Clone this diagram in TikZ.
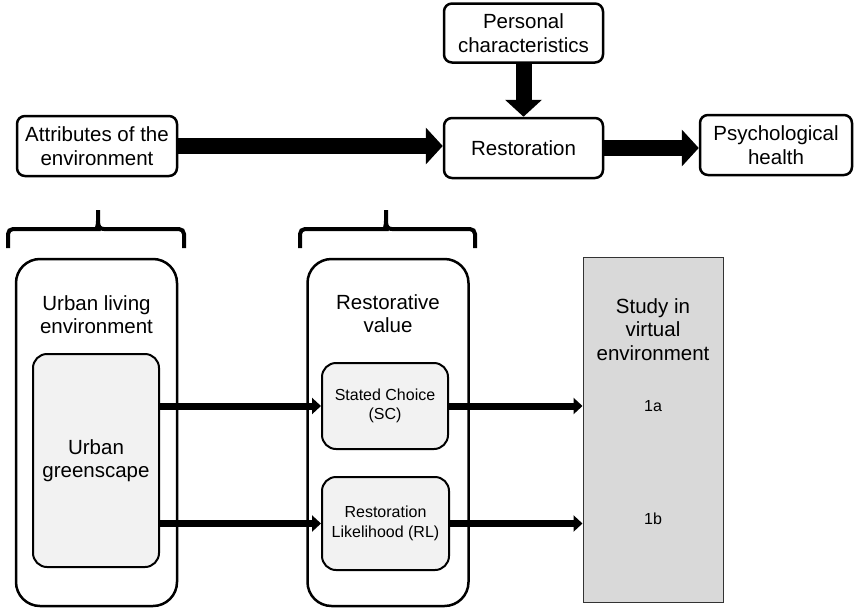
\documentclass[tikz,border=0pt]{standalone}
\usepackage{fontspec}
\setmainfont{Liberation Sans}
\usetikzlibrary{arrows.meta,positioning}

\begin{document}
\begin{tikzpicture}[
    x=1pt, y=-1pt,
    bigfont/.style={font=\fontsize{20.5}{23.5}\selectfont},
    smallfont/.style={font=\fontsize{16}{19.5}\selectfont},
    topbox/.style={
        draw,
        bigfont,
        rounded corners=8pt,
        align=center,
        minimum height=60pt,
        inner sep=2pt,
        line width=2.5pt
    },
    panel/.style={
        draw,
        rounded corners=24pt,
        minimum width=161pt,
        minimum height=347pt,
        line width=2.5pt
    },
    innerbox/.style={
        draw,
        fill=black!5,
        rounded corners=14pt,
        align=center,
        line width=2pt
    },
    studybox/.style={
        draw=black!80,
        fill=black!15,
        minimum width=140pt,
        minimum height=345pt,
        line width=1pt
    },
    paneltitle/.style={
        bigfont,
        align=center,
        anchor=center
    },
    bigflow/.style={-{Triangle[width=36pt,length=17pt]}, line width=16pt},
    flow/.style={-{Triangle[width=16pt,length=9pt]}, line width=7pt},
    bracket/.style={line width=4pt, rounded corners=5pt}
]
\useasboundingbox (0,0) rectangle (854,608);

% Conceptual model
\node[topbox, minimum width=159pt] (restor) at (523.5,148) {Restoration};
\node[topbox, minimum width=159pt, minimum height=59pt, above=53pt of restor]
    (person) {Personal\\characteristics};
\node[topbox, minimum width=160pt] (attrib) at (97,146)
    {Attributes of the\\environment};
\node[topbox, minimum width=152pt] (psych) at (776,145)
    {Psychological\\health};

% Operationalisation
\node[panel, label={[paneltitle, yshift=-57pt]north:Urban living\\environment}]
    (env) at (96.5,432.5) {};
\node[innerbox, bigfont, minimum width=126pt, minimum height=213pt]
    (green) at (96,460.5) {Urban\\greenscape};

\node[panel, right=128pt of env,
      label={[paneltitle, yshift=-56pt]north:Restorative\\value}] (value) {};
\node[innerbox, smallfont, minimum width=126pt, minimum height=86pt]
    (sc) at (385,406) {Stated Choice\\(SC)};
\node[innerbox, smallfont, minimum width=127pt, minimum height=93pt]
    (rl) at (385.5,523.5) {Restoration\\Likelihood (RL)};

\node[studybox, label={[paneltitle, yshift=-73pt]north:Study in\\virtual\\environment}]
    (study) at (653,429.5) {};
\node[smallfont] (s1a) at (653,406) {1a};
\node[smallfont] (s1b) at (653,519) {1b};

% Brackets
\draw[bracket] (8,248) |- (92,229) [sharp corners]
    .. controls (96,229) and (98,227) .. (98,221) -- (98,210) -- (98,221)
    .. controls (98,227) and (100,229) .. (104,229)
    [rounded corners=5pt] -| (184,248);
\draw[bracket] (300,248) |- (380,229) [sharp corners]
    .. controls (384,229) and (386,227) .. (386,221) -- (386,210) -- (386,221)
    .. controls (386,227) and (388,229) .. (392,229)
    [rounded corners=5pt] -| (475,248);

% Arrows
\draw[bigflow] (attrib.east) -- (attrib.east -| restor.west);
\draw[bigflow] (person) -- (restor);
\draw[bigflow] (restor.east) -- (restor.east -| psych.west);

\draw[flow] (green.east |- sc.west) -- (sc.west);
\draw[flow] (green.east |- rl.west) -- (rl.west);
\draw[flow] (sc.east) -- (sc.east -| study.west);
\draw[flow] (rl.east) -- (rl.east -| study.west);

\end{tikzpicture}
\end{document}
